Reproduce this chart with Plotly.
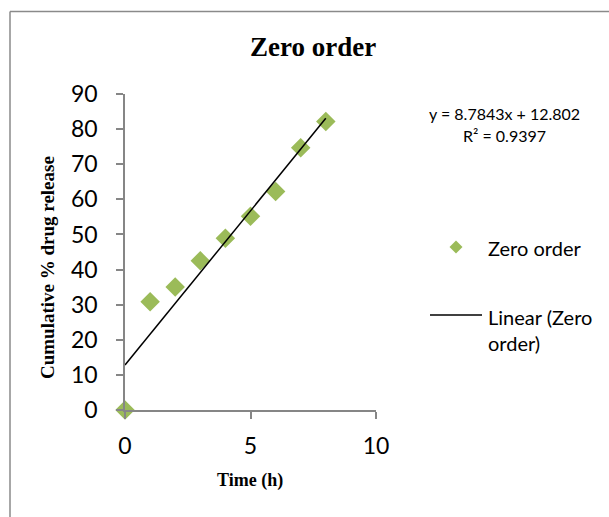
import plotly.graph_objects as go

time_h = [0, 1, 2, 3, 4, 5, 6, 7, 8]
release = [0, 30.8, 35.0, 42.5, 48.9, 55.2, 62.2, 74.7, 82.2]
slope = 8.7843
intercept = 12.802
r2 = 0.9397
x_ticks = [0, 5, 10]
y_ticks = [0, 10, 20, 30, 40, 50, 60, 70, 80, 90]

green = "#9BBB59"
axis_gray = "#868686"

fig = go.Figure()
fig.add_trace(go.Scatter(
    x=time_h, y=release, mode="markers", name="Zero order",
    marker=dict(symbol="diamond", size=15, color=green, line=dict(width=0)),
    showlegend=False, cliponaxis=False))
trend_x = [time_h[0], time_h[-1]]
trend_y = [slope * v + intercept for v in trend_x]
fig.add_trace(go.Scatter(
    x=trend_x, y=trend_y, mode="lines", name="Linear (Zero order)",
    line=dict(color="black", width=1.5), showlegend=False))

W, H = 609, 517
L, R, T, B = 125, 233, 94, 107
pw, ph = W - L - R, H - T - B

def px(x):
    return (x - L) / pw

def py(y):
    return (H - B - y) / ph

tick_font = dict(family="Lato, 'Open Sans', sans-serif", size=23, color="black")
fig.update_layout(
    width=W, height=H,
    margin=dict(l=L, r=R, t=T, b=B),
    paper_bgcolor="white", plot_bgcolor="white",
    xaxis=dict(range=[0, 10], tickvals=x_ticks, showgrid=False, zeroline=False,
               showline=True, linecolor=axis_gray, linewidth=1.5,
               ticks="outside", ticklen=7, tickcolor=axis_gray, tickwidth=1.5,
               tickfont=tick_font, ticklabelstandoff=8),
    yaxis=dict(range=[0, 90], tickvals=y_ticks, showgrid=False, zeroline=False,
               showline=True, linecolor=axis_gray, linewidth=1.5,
               ticks="outside", ticklen=7, tickcolor=axis_gray, tickwidth=1.5,
               tickfont=tick_font, ticklabelstandoff=14),
    showlegend=False,
)

def note(text, x, y, font, xanchor="center", yanchor="middle", **kw):
    return dict(text=text, x=px(x), y=py(y), xref="paper", yref="paper",
                xanchor=xanchor, yanchor=yanchor, showarrow=False, font=font, **kw)

serif = "Liberation Serif, 'Times New Roman', serif"
sans = "Lato, 'Open Sans', sans-serif"
ann = [
    note("<b>Zero order</b>", 313, 47, dict(family=serif, size=27, color="black")),
    note("<b>Time (h)</b>", 250, 480, dict(family=serif, size=18, color="black")),
    note("<b>Cumulative % drug release</b>", 47, 268, dict(family=serif, size=19, color="black"),
         textangle=-90),
    note(f"y = {slope}x + {intercept}", 504, 113, dict(family=sans, size=16, color="black")),
    note(f"R² = {r2}", 504, 135, dict(family=sans, size=16, color="black")),
    note("Zero order", 486, 248, dict(family=sans, size=20, color="black"), xanchor="left"),
    note("Linear (Zero<br>order)", 486, 330, dict(family=sans, size=20, color="black"),
         xanchor="left", align="left"),
]
fig.update_layout(annotations=ann)

shapes = []
# outer frame (top and left edges visible)
shapes.append(dict(type="line", xref="paper", yref="paper", x0=px(10), x1=px(W + 5), y0=py(11.5), y1=py(11.5),
                   line=dict(color="#8a8a8a", width=1.5)))
shapes.append(dict(type="line", xref="paper", yref="paper", x0=px(10), x1=px(10), y0=py(11.5), y1=py(H + 5),
                   line=dict(color="#8a8a8a", width=1.5)))
# legend diamond
cx, cy, r = 456, 247, 6.5
shapes.append(dict(type="path", xref="paper", yref="paper",
                   path=f"M {px(cx - r)} {py(cy)} L {px(cx)} {py(cy - r)} L {px(cx + r)} {py(cy)} L {px(cx)} {py(cy + r)} Z",
                   fillcolor=green, line=dict(width=0)))
# legend line
shapes.append(dict(type="line", xref="paper", yref="paper", x0=px(430), x1=px(482), y0=py(315), y1=py(315),
                   line=dict(color="black", width=1.5)))
fig.update_layout(shapes=shapes)

fig.write_html("out.html")
